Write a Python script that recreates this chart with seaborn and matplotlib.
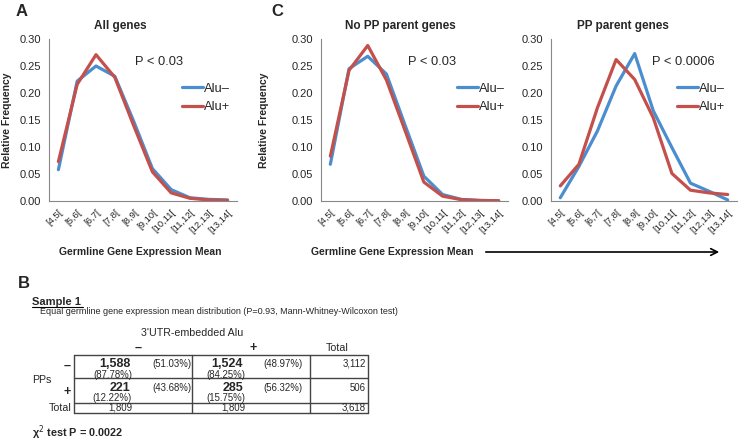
import numpy as np
import pandas as pd
import seaborn as sns
import matplotlib.pyplot as plt
from matplotlib.lines import Line2D
from matplotlib.patches import FancyArrowPatch

# expression bins (x axis categories)
bins = ['[4,5[', '[5,6[', '[6,7[', '[7,8[', '[8,9[', '[9,10[',
        '[10,11[', '[11,12[', '[12,13[', '[13,14[']

# relative frequencies
all_minus = [0.058, 0.222, 0.250, 0.231, 0.148, 0.060, 0.021, 0.006, 0.003, 0.002]
all_plus = [0.073, 0.216, 0.271, 0.229, 0.140, 0.054, 0.015, 0.005, 0.002, 0.001]
nopp_minus = [0.068, 0.245, 0.268, 0.235, 0.140, 0.046, 0.012, 0.003, 0.001, 0.0005]
nopp_plus = [0.083, 0.242, 0.288, 0.224, 0.130, 0.035, 0.009, 0.0025, 0.001, 0.0005]
pp_minus = [0.006, 0.064, 0.130, 0.213, 0.273, 0.167, 0.099, 0.033, 0.018, 0.002]
pp_plus = [0.028, 0.068, 0.173, 0.262, 0.225, 0.154, 0.051, 0.020, 0.015, 0.012]

groups = ['Alu\u2013', 'Alu+']
p_values = ['P < 0.03', 'P < 0.03', 'P < 0.0006']
titles = ['All genes', 'No PP parent genes', 'PP parent genes']

# contingency table (panel B)
counts = [['1,588', '1,524'], ['221', '285']]
row_pct = [['(51.03%)', '(48.97%)'], ['(43.68%)', '(56.32%)']]
col_pct = [['(87.78%)', '(84.25%)'], ['(12.22%)', '(15.75%)']]
row_totals = ['3,112', '506']
col_totals = ['1,809', '1,809']
grand_total = '3,618'

W, H = 739, 441
sns.set_style('white')
plt.rcParams['font.family'] = ['Liberation Sans', 'DejaVu Sans']
fig = plt.figure(figsize=(W / 100, H / 100), dpi=100)


def px(x, y):
    return x / W, 1 - y / H


def make_df(minus, plus):
    return pd.DataFrame({
        'bin': bins * 2,
        'freq': minus + plus,
        'group': [groups[0]] * len(bins) + [groups[1]] * len(bins),
    })


palette = {groups[0]: '#4A8ED0', groups[1]: '#C4504C'}

# axes boxes in pixels: left, right, top, bottom
boxes = [(49, 237, 39, 201), (321, 508, 39, 201), (551, 737, 39, 201)]
series = [(all_minus, all_plus), (nopp_minus, nopp_plus), (pp_minus, pp_plus)]
title_x = [120, 400, 623]
p_x = [135, 408, 652]
leg_x = [182, 457, 677]
ylab_x = [-0.197, -0.28, None]

for i, (l, r, t, b) in enumerate(boxes):
    ax = fig.add_axes([l / W, 1 - b / H, (r - l) / W, (b - t) / H])
    df = make_df(*series[i])
    sns.lineplot(data=df, x='bin', y='freq', hue='group', palette=palette,
                 linewidth=2.3, sort=False, ax=ax)
    ax.set_xlim(-0.5, 9.5)
    ax.set_ylim(0, 0.30)
    ax.set_yticks(np.arange(0, 0.31, 0.05))
    ax.set_yticklabels(['%.2f' % v for v in np.arange(0, 0.31, 0.05)], fontsize=8)
    ax.set_xticks(range(len(bins)))
    ax.set_xticklabels(bins, rotation=45, ha='right', rotation_mode='anchor', fontsize=6.8)
    ax.set_xticks(np.arange(-0.5, 10, 1), minor=True)
    ax.tick_params(axis='x', which='major', length=0, pad=5)
    ax.tick_params(axis='x', which='minor', length=4, color='#888888', direction='out')
    ax.tick_params(axis='y', length=4, color='#888888', direction='out', pad=2)
    for s in ['top', 'right']:
        ax.spines[s].set_visible(False)
    for s in ['left', 'bottom']:
        ax.spines[s].set_color('#888888')
        ax.spines[s].set_linewidth(0.8)
    ax.set_xlabel('')
    if ylab_x[i] is not None:
        ax.set_ylabel('Relative Frequency', fontsize=7.5, fontweight='bold')
        ax.yaxis.set_label_coords(ylab_x[i], 0.5)
    else:
        ax.set_ylabel('')
    ax.legend(loc='center left', bbox_to_anchor=((leg_x[i] - l) / (r - l), (b - 98) / (b - t)),
              frameon=False, fontsize=9.3, borderpad=0, handlelength=1.6,
              handletextpad=0.1, labelspacing=0.5, borderaxespad=0)
    fig.text(*px(title_x[i], 26), titles[i], fontsize=8.5, fontweight='bold',
             ha='center', va='center')
    fig.text(*px(p_x[i], 62), p_values[i], fontsize=9.3, ha='left', va='center')

# x labels and arrow
fig.text(*px(140, 252), 'Germline Gene Expression Mean', fontsize=7.5,
         fontweight='bold', ha='center', va='center')
fig.text(*px(392, 252), 'Germline Gene Expression Mean', fontsize=7.5,
         fontweight='bold', ha='center', va='center')
fig.add_artist(FancyArrowPatch(px(483, 252), px(722, 252), transform=fig.transFigure,
                               arrowstyle='->', mutation_scale=12, lw=1.2, color='black'))

# panel letters
fig.text(*px(22, 12), 'A', fontsize=12, fontweight='bold', ha='center', va='center')
fig.text(*px(277, 11), 'C', fontsize=12, fontweight='bold', ha='center', va='center')
fig.text(*px(24, 283), 'B', fontsize=12, fontweight='bold', ha='center', va='center')

# panel B text
fig.text(*px(32, 302), 'Sample 1', fontsize=8, fontweight='bold', ha='left', va='center')
fig.add_artist(Line2D([32 / W, 83 / W], [1 - 307 / H, 1 - 307 / H], color='black', lw=0.8))
fig.text(*px(40, 312), 'Equal germline gene expression mean distribution '
         '(P=0.93, Mann-Whitney-Wilcoxon test)', fontsize=6.5, ha='left', va='center')
fig.text(*px(192, 333), "3'UTR-embedded Alu", fontsize=7.7, ha='center', va='center')
fig.text(*px(138, 348), '\u2013', fontsize=9, fontweight='bold', ha='center', va='center')
fig.text(*px(253, 348), '+', fontsize=9, fontweight='bold', ha='center', va='center')
fig.text(*px(337, 348), 'Total', fontsize=7.7, ha='center', va='center')
fig.text(*px(32, 380), 'PPs', fontsize=7.7, ha='left', va='center')
fig.text(*px(67, 366), '\u2013', fontsize=9, fontweight='bold', ha='center', va='center')
fig.text(*px(67, 392), '+', fontsize=9, fontweight='bold', ha='center', va='center')
fig.text(*px(72, 408), 'Total', fontsize=7.7, ha='right', va='center')

num_right = [130, 243]
pct_left = [152, 263]
row_y = [(364, 375), (388, 398)]
for ri in range(2):
    for ci in range(2):
        fig.text(*px(num_right[ci], row_y[ri][0]), counts[ri][ci], fontsize=9,
                 fontweight='bold', ha='right', va='center')
        fig.text(*px(num_right[ci] + 2, row_y[ri][1]), col_pct[ri][ci], fontsize=6.9,
                 ha='right', va='center')
        fig.text(*px(pct_left[ci], row_y[ri][0]), row_pct[ri][ci], fontsize=6.9,
                 ha='left', va='center')
    fig.text(*px(366, row_y[ri][0]), row_totals[ri], fontsize=6.9, ha='right', va='center')
for ci in range(2):
    fig.text(*px(num_right[ci] + 2, 408), col_totals[ci], fontsize=6.9, ha='right', va='center')
fig.text(*px(366, 408), grand_total, fontsize=6.9, ha='right', va='center')

# table grid
for yy in [355, 378, 403, 413]:
    fig.add_artist(Line2D([74 / W, 368 / W], [1 - yy / H] * 2, color='#444444', lw=1.0))
for xx in [74, 192, 310, 368]:
    fig.add_artist(Line2D([xx / W] * 2, [1 - 355 / H, 1 - 413 / H], color='#444444', lw=1.0))

fig.text(*px(32, 433), '\u03c7$^2$ test P = 0.0022', fontsize=7.8, fontweight='bold',
         ha='left', va='center')

fig.savefig('out.png', dpi=100)
